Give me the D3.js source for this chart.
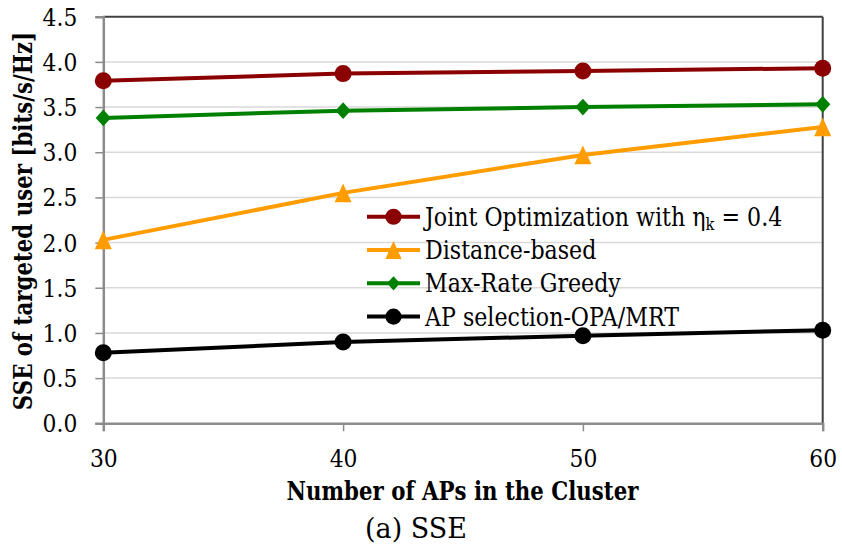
<!DOCTYPE html>
<html>
<head>
<meta charset="utf-8">
<script src="https://cdn.jsdelivr.net/npm/d3@7"></script>
<style>
  html, body { margin: 0; padding: 0; background: #fff; }
  svg { display: block; }
  text { font-family: "DejaVu Serif", "Liberation Serif", serif; fill: #000; }
</style>
</head>
<body>
<svg id="chart" width="842" height="550"></svg>
<script>
// Number of APs in the cluster
const apCounts = [30, 40, 50, 60];

// SSE of the targeted user [bits/s/Hz] for each scheme
const jointOpt    = [3.79, 3.87, 3.90, 3.93];
const distance    = [2.03, 2.55, 2.97, 3.28];
const maxRate     = [3.38, 3.46, 3.50, 3.53];
const apSelection = [0.78, 0.90, 0.97, 1.03];

const yTicks = [0, 0.5, 1, 1.5, 2, 2.5, 3, 3.5, 4, 4.5];
const xTicks = [30, 40, 50, 60];

const series = [
  { name: "Joint Optimization with ", sub: "k", suffix: " = 0.4", values: jointOpt, color: "#8b0000", marker: "circle" },
  { name: "Distance-based", values: distance, color: "#ff9c00", marker: "triangle" },
  { name: "Max-Rate Greedy", values: maxRate, color: "#008000", marker: "diamond" },
  { name: "AP selection-OPA/MRT", values: apSelection, color: "#000000", marker: "circle" }
];

const svg = d3.select("#chart");
const plot = { left: 103.3, right: 822.7, top: 16.7, bottom: 423.3 };

const x = d3.scaleLinear().domain([30, 60]).range([plot.left, plot.right]);
const y = d3.scaleLinear().domain([0, 4.5]).range([plot.bottom, plot.top]);

// horizontal squeeze factors for the narrow serif lettering
const SX_TICK = 0.93, SX_LEG = 0.868, SX_TITLE = 0.82;

// gridlines
svg.append("g")
  .selectAll("line")
  .data(yTicks.filter(d => d > 0 && d < 4.5))
  .join("line")
  .attr("x1", plot.left).attr("x2", plot.right)
  .attr("y1", d => y(d)).attr("y2", d => y(d))
  .attr("stroke", "#d9d9d9").attr("stroke-width", 1.5);

// plot frame: top and right edges
svg.append("line").attr("x1", plot.left).attr("x2", plot.right)
  .attr("y1", plot.top).attr("y2", plot.top)
  .attr("stroke", "#404040").attr("stroke-width", 2);
svg.append("line").attr("x1", plot.right).attr("x2", plot.right)
  .attr("y1", plot.top).attr("y2", plot.bottom)
  .attr("stroke", "#404040").attr("stroke-width", 2);

// y axis
const yAxis = d3.axisLeft(y).tickValues(yTicks).tickSize(8).tickPadding(0).tickFormat(d3.format(".1f"));
const gy = svg.append("g").attr("transform", `translate(${plot.left},0)`).call(yAxis);
gy.select(".domain").attr("stroke", "#8c8c8c").attr("stroke-width", 2.5);
gy.selectAll(".tick line").attr("stroke", "#8c8c8c").attr("stroke-width", 1.5);
gy.selectAll(".tick text").remove();
gy.selectAll(".tick").append("text")
  .attr("transform", `translate(-26,0) scale(${SX_TICK},1)`)
  .attr("text-anchor", "end").attr("dy", "0.36em")
  .style("font-size", "23.5px")
  .text(d => d3.format(".1f")(d));

// x axis
const xAxis = d3.axisBottom(x).tickValues(xTicks).tickSize(8).tickPadding(0).tickFormat(d3.format("d"));
const gx = svg.append("g").attr("transform", `translate(0,${plot.bottom})`).call(xAxis);
gx.select(".domain").attr("stroke", "#8c8c8c").attr("stroke-width", 2.5);
gx.selectAll(".tick line").attr("stroke", "#8c8c8c").attr("stroke-width", 1.5);
gx.selectAll(".tick text").remove();
gx.selectAll(".tick").append("text")
  .attr("transform", `translate(0,43.5) scale(${SX_TICK},1)`)
  .attr("text-anchor", "middle")
  .style("font-size", "23.5px")
  .text(d => d);

// marker shapes, sized in pixels
function markerPath(kind, k = 1) {
  const p = d3.path();
  if (kind === "circle") {
    const r = 8.5 * k;
    p.arc(0, 0, r, 0, 2 * Math.PI);
  } else if (kind === "triangle") {
    const w = 8.5 * k, h = 9.4 * k;
    p.moveTo(0, -h); p.lineTo(w, h); p.lineTo(-w, h); p.closePath();
  } else {
    const w = 7.6 * k, h = 8.4 * k;
    p.moveTo(0, -h); p.lineTo(w, 0); p.lineTo(0, h); p.lineTo(-w, 0); p.closePath();
  }
  return p.toString();
}

const line = d3.line().x((d, i) => x(apCounts[i])).y(d => y(d));

series.forEach(s => {
  const g = svg.append("g");
  g.append("path").attr("d", line(s.values))
    .attr("fill", "none").attr("stroke", s.color).attr("stroke-width", 4);
  g.selectAll("path.m").data(s.values).join("path").attr("class", "m")
    .attr("d", markerPath(s.marker))
    .attr("transform", (d, i) => `translate(${x(apCounts[i])},${y(d)})`)
    .attr("fill", s.color);
});

// legend
const legend = svg.append("g").attr("transform", "translate(367,216.7)");
series.forEach((s, i) => {
  const row = legend.append("g").attr("transform", `translate(0,${i * 33.3})`);
  row.append("line").attr("x1", 0).attr("x2", 53).attr("y1", 0).attr("y2", 0)
    .attr("stroke", s.color).attr("stroke-width", 4);
  row.append("path")
    .attr("d", markerPath(s.marker, s.marker === "diamond" ? 0.85 : 0.95))
    .attr("transform", "translate(26.5,0)").attr("fill", s.color);
  const t = row.append("text")
    .attr("transform", `translate(58,0) scale(${SX_LEG},1)`)
    .attr("dy", "0.36em").style("font-size", "25.5px");
  if (s.sub) {
    t.append("tspan").text(s.name + "\u03b7");
    t.append("tspan").attr("baseline-shift", "-25%").style("font-size", "17px").text(s.sub);
    t.append("tspan").text(s.suffix);
  } else {
    t.text(s.name);
  }
});

// y axis title
svg.append("text")
  .attr("transform", `translate(32,${(plot.top + plot.bottom) / 2 + 1}) rotate(-90) scale(${SX_TITLE},1)`)
  .attr("text-anchor", "middle")
  .style("font-size", "26px").style("font-weight", "bold")
  .text("SSE of targeted user [bits/s/Hz]");

// x axis title
svg.append("text")
  .attr("transform", `translate(462.5,500) scale(${SX_TITLE},1)`)
  .attr("text-anchor", "middle")
  .style("font-size", "26px").style("font-weight", "bold")
  .text("Number of APs in the Cluster");

// caption
svg.append("text")
  .attr("transform", "translate(416,538)")
  .attr("text-anchor", "middle")
  .style("font-size", "27px")
  .text("(a) SSE");
</script>
</body>
</html>
